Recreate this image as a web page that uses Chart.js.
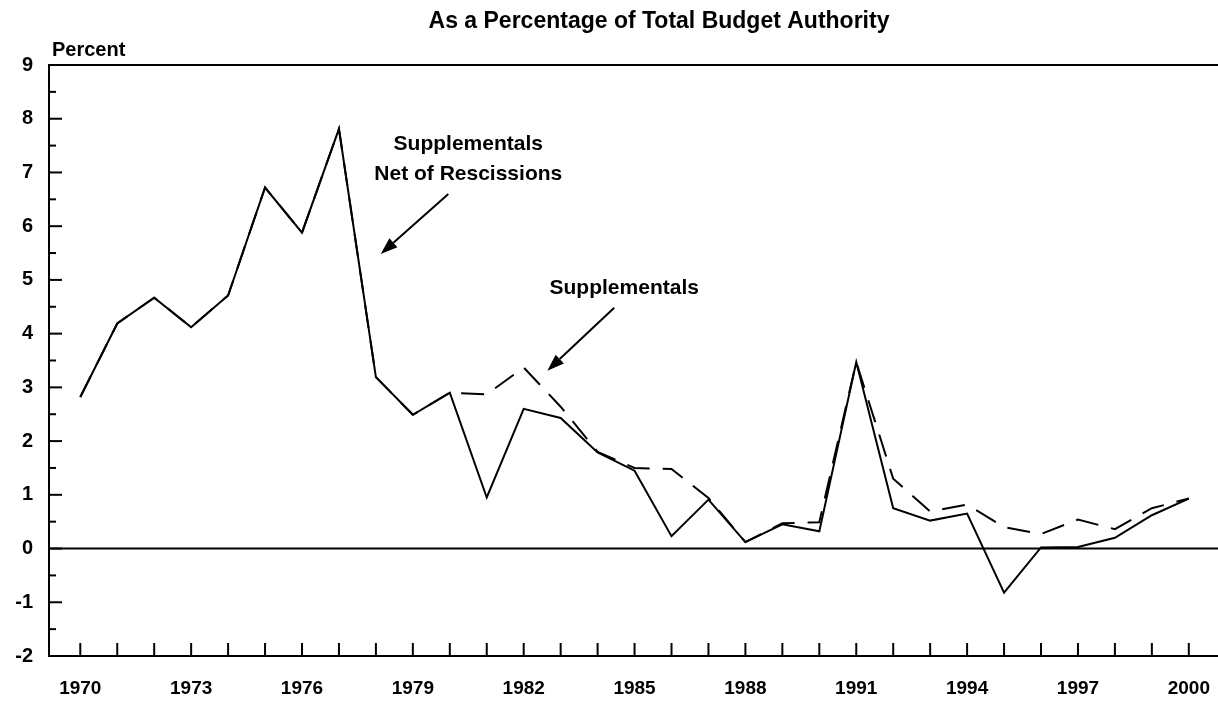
<!DOCTYPE html>
<html>
<head>
<meta charset="utf-8">
<script src="https://cdn.jsdelivr.net/npm/chart.js@4.4.0/dist/chart.umd.min.js"></script>
<style>
  html, body { margin: 0; padding: 0; background: #fff; }
  #wrap { width: 1218px; height: 702px; }
</style>
</head>
<body>
<div id="wrap"><canvas id="grafico" width="1218" height="702"></canvas></div>
<script>
// años del eje x
const anios = [1970, 1971, 1972, 1973, 1974, 1975, 1976, 1977, 1978, 1979,
               1980, 1981, 1982, 1983, 1984, 1985, 1986, 1987, 1988, 1989,
               1990, 1991, 1992, 1993, 1994, 1995, 1996, 1997, 1998, 1999, 2000];

// suplementarios netos de rescisiones (linea continua)
const netoRescisiones = [2.82, 4.19, 4.67, 4.12, 4.71, 6.72, 5.88, 7.81, 3.19, 2.49,
                         2.90, 0.95, 2.60, 2.43, 1.79, 1.45, 0.23, 0.91, 0.12, 0.45,
                         0.32, 3.47, 0.75, 0.52, 0.65, -0.82, 0.02, 0.03, 0.20, 0.62, 0.93];

// suplementarios (linea discontinua)
const suplementarios = [2.82, 4.19, 4.67, 4.12, 4.71, 6.72, 5.88, 7.81, 3.19, 2.49,
                        2.90, 2.87, 3.37, 2.64, 1.80, 1.50, 1.48, 0.94, 0.12, 0.47,
                        0.49, 3.47, 1.30, 0.69, 0.82, 0.40, 0.27, 0.54, 0.36, 0.75, 0.93];

// etiquetas del eje x (cada 3 años)
const aniosEtiqueta = [1970, 1973, 1976, 1979, 1982, 1985, 1988, 1991, 1994, 1997, 2000];

const fuente = '"Liberation Sans", Arial, Helvetica, sans-serif';
const X_MIN = 1969.153, X_MAX = 2000.79;

// textos y flechas en coordenadas de datos
const notas = [
  { lineas: ['Supplementals', 'Net of Rescissions'], x: 1980.5, y: [7.53, 6.97],
    flecha: { desde: [1979.96, 6.60], hasta: [1978.13, 5.48] } },
  { lineas: ['Supplementals'], x: 1984.72, y: [4.85],
    flecha: { desde: [1984.45, 4.48], hasta: [1982.64, 3.31] } }
];

// marcas de los ejes, linea cero, titulo y notas
const marcas = {
  id: 'marcas',
  beforeDatasetsDraw(chart) {
    const ctx = chart.ctx;
    const a = chart.chartArea;
    const sx = chart.scales.x, sy = chart.scales.y;
    ctx.save();
    ctx.strokeStyle = '#000';
    ctx.lineWidth = 2;
    // linea superior
    ctx.beginPath();
    ctx.moveTo(a.left, a.top);
    ctx.lineTo(a.right, a.top);
    ctx.stroke();
    // linea del cero
    const y0 = sy.getPixelForValue(0);
    ctx.beginPath();
    ctx.moveTo(a.left, y0);
    ctx.lineTo(a.right, y0);
    ctx.stroke();
    // marcas hacia dentro en el eje y
    for (let v = -2; v <= 9; v += 0.5) {
      const py = sy.getPixelForValue(v);
      const largo = Number.isInteger(v) ? 13 : 7;
      ctx.beginPath();
      ctx.moveTo(a.left, py);
      ctx.lineTo(a.left + largo, py);
      ctx.stroke();
    }
    // marcas hacia dentro en el eje x
    anios.forEach(an => {
      const px = sx.getPixelForValue(an);
      ctx.beginPath();
      ctx.moveTo(px, a.bottom);
      ctx.lineTo(px, a.bottom - 13);
      ctx.stroke();
    });
    ctx.restore();
  },
  afterDraw(chart) {
    const ctx = chart.ctx;
    const sx = chart.scales.x, sy = chart.scales.y;
    ctx.save();
    ctx.fillStyle = '#000';
    ctx.strokeStyle = '#000';
    ctx.textBaseline = 'middle';

    // titulo
    ctx.font = 'bold 23px ' + fuente;
    ctx.textAlign = 'center';
    ctx.fillText('As a Percentage of Total Budget Authority', 659, 22);

    // titulo del eje y
    ctx.font = 'bold 20px ' + fuente;
    ctx.textAlign = 'left';
    ctx.fillText('Percent', 52, 50);

    // notas con flechas
    ctx.font = 'bold 21px ' + fuente;
    ctx.textAlign = 'center';
    notas.forEach(n => {
      n.lineas.forEach((t, i) => {
        ctx.fillText(t, sx.getPixelForValue(n.x), sy.getPixelForValue(n.y[i]));
      });
      const x1 = sx.getPixelForValue(n.flecha.desde[0]), y1 = sy.getPixelForValue(n.flecha.desde[1]);
      const x2 = sx.getPixelForValue(n.flecha.hasta[0]), y2 = sy.getPixelForValue(n.flecha.hasta[1]);
      const ang = Math.atan2(y2 - y1, x2 - x1);
      const punta = 17, ancho = 6;
      const bx = x2 - punta * Math.cos(ang), by = y2 - punta * Math.sin(ang);
      ctx.lineWidth = 2;
      ctx.beginPath();
      ctx.moveTo(x1, y1);
      ctx.lineTo(bx, by);
      ctx.stroke();
      ctx.beginPath();
      ctx.moveTo(x2, y2);
      ctx.lineTo(bx + ancho * Math.sin(ang), by - ancho * Math.cos(ang));
      ctx.lineTo(bx - ancho * Math.sin(ang), by + ancho * Math.cos(ang));
      ctx.closePath();
      ctx.fill();
    });
    ctx.restore();
  }
};

function grafico_lineas() {
  const ctx = document.getElementById('grafico');

  new Chart(ctx, {
    type: 'line',
    data: {
      labels: anios,
      datasets: [
        {
          label: 'Supplementals Net of Rescissions',
          data: anios.map((an, i) => ({ x: an, y: netoRescisiones[i] })),
          borderColor: '#000',
          borderWidth: 2,
          pointRadius: 0,
          tension: 0,
          fill: false
        },
        {
          label: 'Supplementals',
          data: anios.map((an, i) => ({ x: an, y: suplementarios[i] })),
          borderColor: '#000',
          borderWidth: 2,
          borderDash: [23, 13],
          pointRadius: 0,
          tension: 0,
          fill: false
        }
      ]
    },
    options: {
      responsive: false,
      animation: false,
      devicePixelRatio: 1,
      layout: { padding: { top: 65, right: 0, left: 0, bottom: 0 } },
      plugins: {
        legend: { display: false },
        tooltip: { enabled: false },
        title: { display: false }
      },
      scales: {
        x: {
          type: 'linear',
          min: X_MIN,
          max: X_MAX,
          afterFit: s => { s.height = 46; },
          // el ultimo tick vacio en el borde evita el margen derecho extra
          afterBuildTicks: s => {
            s.ticks = aniosEtiqueta.map(v => ({ value: v })).concat([{ value: X_MAX }]);
          },
          // marca invisible hacia fuera solo para separar las etiquetas
          grid: { display: true, drawOnChartArea: false, drawTicks: true, tickLength: 21, tickColor: 'rgba(0,0,0,0)' },
          border: { display: true, color: '#000', width: 2 },
          ticks: {
            padding: 0,
            maxRotation: 0,
            autoSkip: false,
            color: '#000',
            font: { family: fuente, size: 19, weight: 'bold' },
            callback: v => (aniosEtiqueta.includes(v) ? String(v) : '')
          }
        },
        y: {
          min: -2,
          max: 9,
          afterFit: s => { s.width = 49; },
          grid: { display: false, drawTicks: false },
          border: { display: true, color: '#000', width: 2 },
          ticks: {
            stepSize: 1,
            padding: 16,
            color: '#000',
            font: { family: fuente, size: 20, weight: 'bold' }
          }
        }
      }
    },
    plugins: [marcas]
  });
}

grafico_lineas();
</script>
</body>
</html>
